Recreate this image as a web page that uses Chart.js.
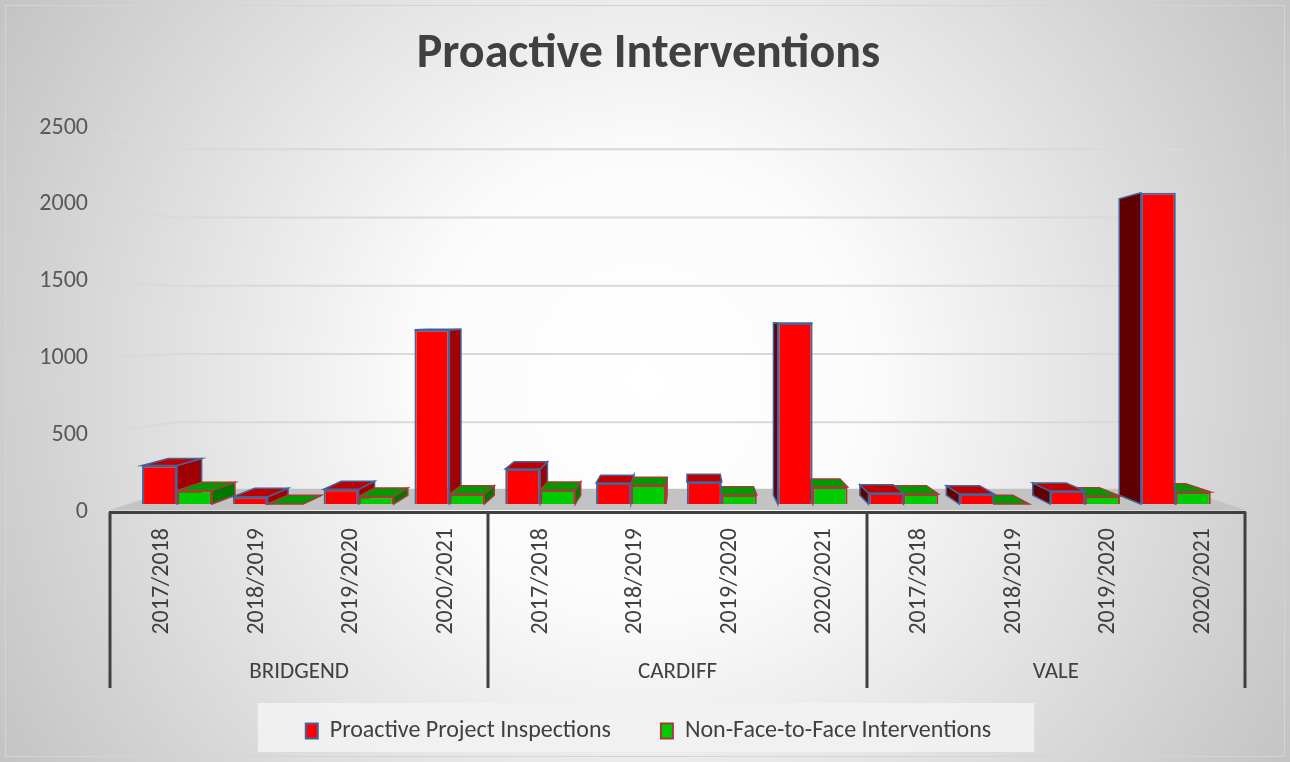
<!DOCTYPE html>
<html>
<head>
<meta charset="utf-8">
<title>Proactive Interventions</title>
<style>
  html, body { margin: 0; padding: 0; background: #fff; }
  canvas { display: block; }
</style>
</head>
<body>
<canvas id="chart" width="1290" height="762"></canvas>

<script src="https://cdn.jsdelivr.net/npm/chart.js"></script>

<script>
  // ---- data ----
  const yearLabels = [
    '2017/2018', '2018/2019', '2019/2020', '2020/2021',
    '2017/2018', '2018/2019', '2019/2020', '2020/2021',
    '2017/2018', '2018/2019', '2019/2020', '2020/2021'
  ];
  const groupLabels = ['BRIDGEND', 'CARDIFF', 'VALE'];
  const inspections = [262, 50, 100, 1185, 238, 143, 150, 1230, 75, 68, 88, 2115];
  const nonFaceToFace = [92, 0, 51, 68, 95, 129, 61, 116, 68, 0, 54, 82];
  const valueTicks = [0, 500, 1000, 1500, 2000, 2500];

  const FONT = "Carlito, Lato, 'Open Sans', sans-serif";
  const TEXT = '#404040';

  // ---- fake 3D view: one vanishing point, bars and back wall pushed toward it ----
  const VP = { x: 690, y: 320 };
  const BAR_DEPTH = 0.048;
  const WALL_DEPTH = 0.112;
  const shades = [
    { top: '#c00000', right: '#a00000', left: '#600000', line: '#41659a' },
    { top: '#009a00', right: '#007800', left: '#005500', line: '#a33c36' }
  ];

  function toBack(x, y, k) {
    return [VP.x + (x - VP.x) * (1 - k), VP.y + (y - VP.y) * (1 - k)];
  }

  function poly(ctx, pts, fill, stroke) {
    ctx.beginPath();
    ctx.moveTo(pts[0][0], pts[0][1]);
    for (let i = 1; i < pts.length; i++) ctx.lineTo(pts[i][0], pts[i][1]);
    ctx.closePath();
    ctx.fillStyle = fill;
    ctx.fill();
    if (stroke) {
      ctx.strokeStyle = stroke;
      ctx.lineWidth = 1.5;
      ctx.stroke();
    }
  }

  const view3d = {
    id: 'view3d',
    beforeDraw(chart) {
      const { ctx, width, height } = chart;
      ctx.save();
      const g = ctx.createRadialGradient(width / 2, height / 2, 0, width / 2, height / 2, 760);
      g.addColorStop(0, '#ffffff');
      g.addColorStop(0.3, '#fbfbfb');
      g.addColorStop(1, '#c2c2c2');
      ctx.fillStyle = g;
      ctx.fillRect(0, 0, width, height);
      ctx.strokeStyle = '#d4d4d4';
      ctx.lineWidth = 1;
      ctx.strokeRect(5.5, 5.5, width - 11, height - 11);

      // grey band behind the legend
      const hb = chart.legend && chart.legend.legendHitBoxes;
      if (hb && hb.length) {
        const last = hb[hb.length - 1];
        const l = hb[0].left - 48, r = last.left + last.width + 43;
        const t = hb[0].top - 16, b = hb[0].top + 33;
        ctx.fillStyle = 'rgba(242,242,242,0.9)';
        ctx.fillRect(l, t, r - l, b - t);
      }
      ctx.restore();
    },
    beforeDatasetsDraw(chart) {
      const { ctx, chartArea: a, scales } = chart;
      ctx.save();

      // floor
      const fy = a.bottom - 2;
      poly(ctx, [[a.left, fy], [a.right, fy], toBack(a.right, fy, WALL_DEPTH), toBack(a.left, fy, WALL_DEPTH)], '#c3c3c3');

      // gridlines on the back wall
      ctx.strokeStyle = '#d9d9d9';
      ctx.lineWidth = 2;
      valueTicks.forEach(v => {
        if (v === 0) return;
        const y = scales.y.getPixelForValue(v);
        const [bx, by] = toBack(a.left, y, WALL_DEPTH);
        const [ex] = toBack(a.right, y, WALL_DEPTH);
        ctx.beginPath();
        ctx.moveTo(a.left, y + (by - y) * 0.25);
        ctx.lineTo(bx, by);
        ctx.lineTo(ex, by);
        ctx.stroke();
      });

      // top and side faces, farthest from the vanishing point first
      const bars = [];
      chart.data.datasets.forEach((ds, di) => {
        chart.getDatasetMeta(di).data.forEach(el => bars.push({ el, di }));
      });
      bars.sort((p, q) => Math.abs(q.el.x - VP.x) - Math.abs(p.el.x - VP.x));
      bars.forEach(({ el, di }) => {
        const s = shades[di];
        const xl = el.x - el.width / 2, xr = el.x + el.width / 2;
        const yt = Math.min(el.y, el.base), yb = Math.max(el.y, el.base);
        const back = (x, y) => toBack(x, y, BAR_DEPTH);
        if (xr < VP.x) poly(ctx, [[xr, yt], [xr, yb], back(xr, yb), back(xr, yt)], s.right, s.line);
        if (xl > VP.x) poly(ctx, [[xl, yt], [xl, yb], back(xl, yb), back(xl, yt)], s.left, s.line);
        if (yt > VP.y) poly(ctx, [[xl, yt], [xr, yt], back(xr, yt), back(xl, yt)], s.top, s.line);
      });
      ctx.restore();
    },
    afterDraw(chart) {
      // group dividers of the two-level category axis
      const { ctx, chartArea: a } = chart;
      const step = (a.right - a.left) / groupLabels.length;
      ctx.save();
      ctx.strokeStyle = '#404040';
      ctx.lineWidth = 3;
      for (let i = 0; i <= groupLabels.length; i++) {
        const x = Math.round(a.left + i * step);
        ctx.beginPath();
        ctx.moveTo(x, a.bottom);
        ctx.lineTo(x, a.bottom + 176);
        ctx.stroke();
      }
      ctx.restore();
    }
  };

  const barPoints = vals => vals.map((v, i) => ({ x: i, y: v }));

  new Chart(document.getElementById('chart'), {
    type: 'bar',
    data: {
      datasets: [
        {
          label: 'Proactive Project Inspections',
          data: barPoints(inspections),
          backgroundColor: '#ff0000',
          borderColor: shades[0].line,
          borderWidth: 2,
          xAxisID: 'xb',
          yAxisID: 'yb'
        },
        {
          label: 'Non-Face-to-Face Interventions',
          data: barPoints(nonFaceToFace),
          backgroundColor: '#00cc00',
          borderColor: shades[1].line,
          borderWidth: 2,
          xAxisID: 'xb',
          yAxisID: 'yb'
        }
      ]
    },
    options: {
      responsive: false,
      animation: false,
      devicePixelRatio: 1,
      categoryPercentage: 0.77,
      barPercentage: 1,
      layout: { padding: { left: 7, right: 0, top: 0, bottom: 9 } },
      plugins: {
        title: {
          display: true,
          text: 'Proactive Interventions',
          color: TEXT,
          font: { family: FONT, size: 48, weight: 'bold' },
          padding: { top: 26, bottom: 44 }
        },
        legend: {
          position: 'bottom',
          labels: {
            color: TEXT,
            font: { family: FONT, size: 24 },
            boxWidth: 12,
            boxHeight: 15,
            padding: 50
          }
        },
        tooltip: { enabled: false }
      },
      scales: {
        // front plane of the bars (sits slightly inside the label plane)
        xb: {
          type: 'linear',
          display: false,
          offset: false,
          min: -0.738,
          max: 11.762,
          afterBuildTicks: s => { s.ticks = yearLabels.map((_, i) => ({ value: i })); }
        },
        // value axis of the bar fronts; kept on the right only to reserve the right margin
        yb: {
          type: 'linear',
          position: 'right',
          min: -54,
          max: 2558,
          afterFit: s => { s.width = 45; },
          grid: { display: false },
          border: { display: false },
          ticks: { display: false }
        },
        y: {
          type: 'linear',
          position: 'left',
          min: 0,
          max: 2500,
          afterBuildTicks: s => { s.ticks = valueTicks.map(v => ({ value: v })); },
          afterFit: s => { s.width = 103; },
          grid: { display: false },
          border: { display: false },
          ticks: {
            color: '#595959',
            font: { family: FONT, size: 24 },
            padding: 14,
            callback: v => String(v)
          }
        },
        x: {
          type: 'category',
          position: 'bottom',
          labels: yearLabels,
          offset: true,
          afterFit: s => { s.height = 124; },
          grid: { display: false },
          border: { display: true, color: '#404040', width: 3 },
          ticks: {
            color: TEXT,
            font: { family: FONT, size: 24 },
            minRotation: 90,
            maxRotation: 90,
            autoSkip: false,
            labelOffset: 5,
            padding: 8
          }
        },
        x2: {
          type: 'category',
          position: 'bottom',
          labels: groupLabels,
          offset: true,
          afterFit: s => { s.height = 33; },
          grid: { display: false },
          border: { display: false },
          ticks: { color: TEXT, font: { family: FONT, size: 23 }, mirror: true, padding: -50 }
        }
      }
    },
    plugins: [view3d]
  });
</script>
</body>
</html>
